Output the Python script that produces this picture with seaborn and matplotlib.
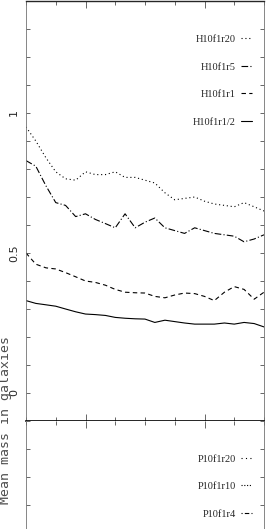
import numpy as np
import pandas as pd
import matplotlib
matplotlib.use('Agg')
import matplotlib.pyplot as plt
from matplotlib.lines import Line2D
from matplotlib.ticker import MultipleLocator, FixedLocator, FuncFormatter
import seaborn as sns

# values (x in axis units 0..8)
x_vals = [0.0, 0.33, 0.67, 1.0, 1.33, 1.67, 2.0, 2.33, 2.67, 3.0, 3.33, 3.67, 4.0,
          4.33, 4.67, 5.0, 5.33, 5.67, 6.0, 6.33, 6.67, 7.0, 7.33, 7.67, 8.0]
h_r20 = [0.95, 0.90, 0.84, 0.79, 0.765, 0.76, 0.79, 0.78, 0.78, 0.79, 0.77, 0.77, 0.76,
         0.75, 0.715, 0.69, 0.695, 0.70, 0.685, 0.675, 0.67, 0.665, 0.68, 0.665, 0.65]
h_r5 = [0.83, 0.81, 0.74, 0.68, 0.67, 0.63, 0.64, 0.62, 0.605, 0.59, 0.64, 0.59, 0.61,
        0.625, 0.59, 0.58, 0.57, 0.59, 0.58, 0.57, 0.565, 0.56, 0.54, 0.55, 0.565]
h_r1 = [0.50, 0.46, 0.447, 0.443, 0.43, 0.415, 0.40, 0.395, 0.385, 0.37, 0.36, 0.358, 0.357,
        0.345, 0.34, 0.35, 0.357, 0.355, 0.345, 0.33, 0.36, 0.38, 0.37, 0.335, 0.36]
h_r05 = [0.33, 0.32, 0.315, 0.31, 0.30, 0.29, 0.282, 0.28, 0.277, 0.27, 0.267, 0.265, 0.264,
         0.252, 0.26, 0.255, 0.25, 0.246, 0.246, 0.246, 0.25, 0.246, 0.252, 0.248, 0.236]
top_labels = ['H10f1r20', 'H10f1r5', 'H10f1r1', 'H10f1r1/2']
bottom_labels = ['P10f1r20', 'P10f1r10', 'P10f1r4']

df = pd.DataFrame({
    'x': x_vals * 4,
    'mass': h_r20 + h_r5 + h_r1 + h_r05,
    'run': sum([[lab] * len(x_vals) for lab in top_labels], []),
})

sns.set_style('ticks')
plt.rcParams['font.family'] = ['DejaVu Sans']
legend_font = {'family': ['Liberation Sans Narrow', 'Liberation Serif'], 'size': 7.5}

dash_map = {'H10f1r20': (1, 2.5), 'H10f1r5': (6, 2, 1, 2),
            'H10f1r1': (4, 3), 'H10f1r1/2': ''}

fig = plt.figure(figsize=(2.69, 5.29), dpi=100)
W, H = 269, 529
left, right = 26 / W, 264 / W
top_ax = fig.add_axes([left, (H - 421) / H, right - left, 420 / H])
bot_ax = fig.add_axes([left, (H - 421) / H - 420 / H, right - left, 420 / H])

sns.lineplot(data=df, x='x', y='mass', style='run', dashes=dash_map, color='black',
             linewidth=0.8, legend=False, ax=top_ax, sort=False)

for ax in (top_ax, bot_ax):
    ax.set_xlim(0, 8)
    ax.set_ylim(-0.1, 1.4)
    ax.set_xlabel('')
    ax.set_ylabel('')
    ax.xaxis.set_major_locator(FixedLocator([2, 6]))
    ax.xaxis.set_minor_locator(MultipleLocator(1))
    ax.yaxis.set_major_locator(MultipleLocator(0.5))
    ax.yaxis.set_minor_locator(MultipleLocator(0.1))
    ax.tick_params(which='both', direction='in', top=True, bottom=True, left=True, right=True,
                   labelbottom=False, color='0.3', width=0.6)
    ax.tick_params(which='major', length=5)
    ax.tick_params(which='minor', length=3)
    ax.tick_params(axis='y', which='major', length=3)
    for s in ax.spines.values():
        s.set_color('0.45')
        s.set_linewidth(0.6)

top_ax.spines['top'].set_color('0.15')
top_ax.spines['top'].set_linewidth(1.0)
top_ax.spines['bottom'].set_color('black')
top_ax.spines['bottom'].set_linewidth(1.2)
bot_ax.spines['top'].set_visible(False)

top_ax.yaxis.set_major_formatter(FuncFormatter(lambda v, p: '0' if abs(v) < 1e-9 else f'{v:g}'))
top_ax.tick_params(axis='y', labelsize=8, labelrotation=90, pad=5)
for t in top_ax.get_yticklabels():
    t.set_va('center')
bot_ax.tick_params(axis='y', labelleft=False)

top_handles = [Line2D([], [], color='black', lw=0.8, dashes=dash_map[k]) if dash_map[k]
               else Line2D([], [], color='black', lw=0.8) for k in top_labels]
top_ax.legend(top_handles, top_labels, loc='upper right', bbox_to_anchor=(0.99, 0.942),
              frameon=False, markerfirst=False, handlelength=1.1, handletextpad=0.5,
              labelspacing=1.75, prop=legend_font)

bot_handles = [Line2D([], [], color='black', lw=0.8, dashes=(1, 3)),
               Line2D([], [], color='black', lw=0.8, dashes=(1, 1.5)),
               Line2D([], [], color='black', lw=0.8, dashes=(1, 2, 4, 2))]
bot_ax.legend(bot_handles, bottom_labels, loc='upper right', bbox_to_anchor=(0.99, 0.943),
              frameon=False, markerfirst=False, handlelength=1.1, handletextpad=0.5,
              labelspacing=1.75, prop=legend_font)

fig.text(5.5 / W, (H - 420) / H, 'Mean mass in galaxies', rotation=90, ha='center', va='center',
         family='DejaVu Sans Mono', fontsize=9.5, color='0.3')

fig.savefig('out.png', dpi=100)
